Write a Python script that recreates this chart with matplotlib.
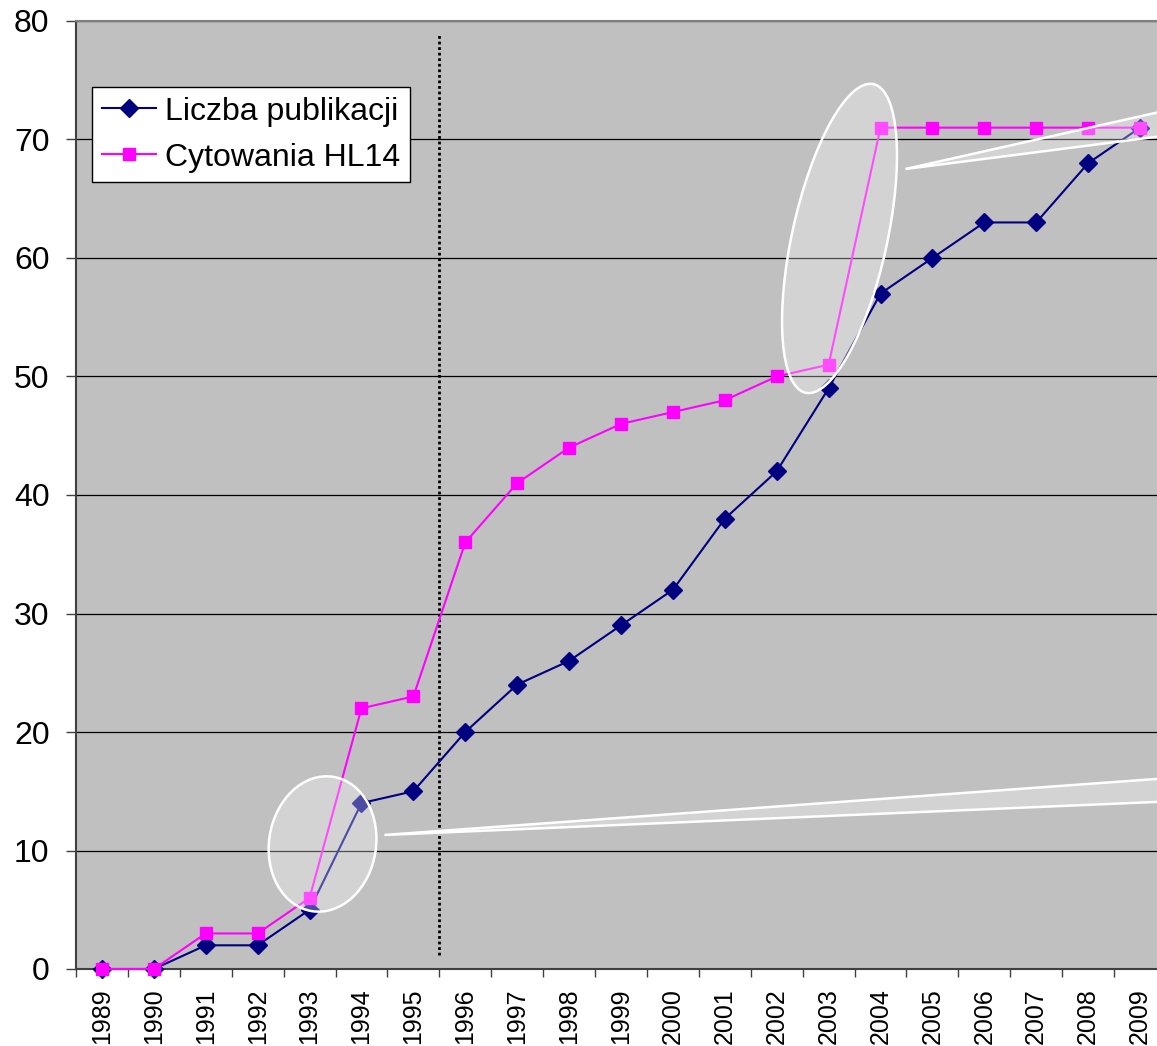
import matplotlib
matplotlib.use('Agg')
import matplotlib.pyplot as plt
from matplotlib import patches, transforms

plt.rcParams['font.family'] = ['Liberation Sans', 'DejaVu Sans']

lata = ['1989', '1990', '1991', '1992', '1993', '1994', '1995', '1996', '1997', '1998',
        '1999', '2000', '2001', '2002', '2003', '2004', '2005', '2006', '2007', '2008', '2009']
publikacje = [0, 0, 2, 2, 5, 14, 15, 20, 24, 26, 29, 32, 38, 42, 49, 57, 60, 63, 63, 68, 71]
cytowania = [0, 0, 3, 3, 6, 22, 23, 36, 41, 44, 46, 47, 48, 50, 51, 71, 71, 71, 71, 71, 71]

W, H = 1157, 1046
fig = plt.figure(figsize=(W / 100, H / 100), dpi=100)
# obszar wykresu wychodzi troche poza prawa krawedz, jak w oryginale
ax = fig.add_axes([76 / W, 1 - 969 / H, 1090 / W, 948 / H])

x = list(range(len(lata)))
ax.set_facecolor('#C0C0C0')
ax.set_xlim(-0.5, len(lata) - 0.5)
ax.set_ylim(0, 80)
ax.set_yticks(range(0, 81, 10))
ax.yaxis.grid(True, color='black', lw=0.9)
ax.set_axisbelow(True)

ax.plot(x, publikacje, color='#000080', marker='D', ms=9.5, lw=1.5,
        label='Liczba publikacji', zorder=3, clip_on=False)
ax.plot(x, cytowania, color='#FF00FF', marker='s', ms=9, lw=1.5,
        label='Cytowania HL14', zorder=4, clip_on=False)

# linia kropkowana miedzy 1995 a 1996
ax.plot([6.5, 6.5], [1.2, 78.8], color='black', ls=(0, (1, 1)), lw=2, zorder=2)

ax.set_xticks(x)
ax.set_xticklabels(lata, rotation=90, fontsize=18)
ax.set_xticks([i - 0.5 for i in range(len(lata) + 1)], minor=True)
ax.tick_params(axis='x', which='major', length=0, pad=14)
ax.tick_params(axis='x', which='minor', length=6, width=1, color='#404040')
ax.tick_params(axis='y', length=7, width=1, color='#404040', pad=12, labelsize=23)

for s in ['left', 'bottom']:
    ax.spines[s].set_color('#404040')
    ax.spines[s].set_linewidth(1.5)
ax.spines['top'].set_color('#808080')
ax.spines['top'].set_linewidth(1.5)
ax.spines['right'].set_visible(False)


def dymek(cx, cy, szer, wys, kat, grot):
    tr = fig.dpi_scale_trans + transforms.ScaledTranslation(cx, cy, ax.transData)
    e = patches.Ellipse((0, 0), szer / 100, wys / 100, angle=kat, transform=tr,
                        facecolor=(1, 1, 1, 0.3), edgecolor='white', lw=1.8, zorder=5)
    ax.add_patch(e)
    p = patches.Polygon(grot, closed=True, facecolor=(1, 1, 1, 0.3),
                        edgecolor='white', lw=1.8, zorder=5)
    ax.add_patch(p)


dymek(4.25, 10.55, 136, 107, 81, [(5.44, 11.31), (20.8, 16.19), (20.8, 14.19)])
dymek(14.21, 61.65, 316, 95, 77.6, [(15.48, 67.51), (20.8, 72.74), (20.8, 70.50)])

leg = ax.legend(loc='upper left', bbox_to_anchor=(92 / W, 1 - 87 / H),
                bbox_transform=fig.transFigure, borderaxespad=0, fontsize=23,
                fancybox=False, edgecolor='black', framealpha=1, numpoints=1,
                handlelength=1.7, handletextpad=0.3, labelspacing=0.5, borderpad=0.3)
leg.get_frame().set_linewidth(1)
leg.set_zorder(10)

fig.savefig('out.png', dpi=100)
